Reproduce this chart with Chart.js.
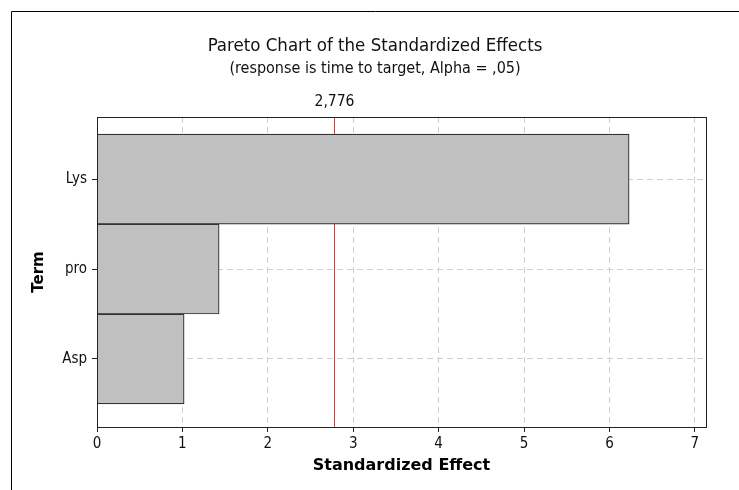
<!DOCTYPE html>
<html>
<head>
<meta charset="utf-8">
<script src="https://cdn.jsdelivr.net/npm/chart.js@4"></script>
<style>
  html, body { margin: 0; padding: 0; background: #fff; }
  #wrap { position: relative; width: 739px; height: 490px; }
</style>
</head>
<body>
<div id="wrap"><canvas id="chart" width="739" height="490"></canvas></div>
<script>
const terms = ['Lys', 'pro', 'Asp'];
const effects = [6.23, 1.43, 1.02];
const criticalValue = 2.776;
const criticalLabel = '2,776';
const xTicks = [0, 1, 2, 3, 4, 5, 6, 7];

const narrow = '"DejaVu Sans Condensed", "DejaVu Sans", sans-serif';

// outer frame, reference line (behind bars), plot box and label
const decorations = {
    id: 'decorations',
    beforeDraw(chart) {
        const ctx = chart.ctx;
        ctx.save();
        ctx.strokeStyle = '#000';
        ctx.lineWidth = 1;
        ctx.beginPath();
        ctx.moveTo(11.5, 490);
        ctx.lineTo(11.5, 11.5);
        ctx.lineTo(739, 11.5);
        ctx.stroke();
        ctx.restore();
    },
    beforeDatasetsDraw(chart) {
        const { ctx, chartArea: a, scales } = chart;
        const x = Math.round(scales.x.getPixelForValue(criticalValue)) + 0.5;
        ctx.save();
        ctx.strokeStyle = '#ee3333';
        ctx.lineWidth = 1;
        ctx.beginPath();
        ctx.moveTo(x, a.top);
        ctx.lineTo(x, a.bottom);
        ctx.stroke();
        ctx.restore();
    },
    afterDatasetsDraw(chart) {
        const { ctx, chartArea: a, scales } = chart;
        const x = Math.round(scales.x.getPixelForValue(criticalValue)) + 0.5;
        ctx.save();
        ctx.strokeStyle = '#222';
        ctx.lineWidth = 1;
        ctx.strokeRect(Math.round(a.left) + 0.5, Math.round(a.top) + 0.5,
            Math.round(a.right - a.left), Math.round(a.bottom - a.top));

        ctx.fillStyle = '#111';
        ctx.font = '15.5px ' + narrow;
        ctx.textAlign = 'center';
        ctx.textBaseline = 'middle';
        ctx.fillText(criticalLabel, x, a.top - 15);
        ctx.restore();
    }
};

new Chart(document.getElementById('chart'), {
    type: 'bar',
    data: {
        datasets: [{
            label: 'Standardized Effect',
            data: effects.map((v, i) => ({ x: v, y: i })),
            backgroundColor: '#c0c0c0',
            borderColor: '#333',
            borderWidth: 1.2,
            barPercentage: 1,
            categoryPercentage: 1
        }]
    },
    options: {
        indexAxis: 'y',
        responsive: false,
        animation: false,
        // left padding shifts the title centre to match the reference
        layout: { padding: { top: 0, right: 33, bottom: 0, left: 44 } },
        plugins: {
            legend: { display: false },
            tooltip: { enabled: false },
            title: {
                display: true,
                text: 'Pareto Chart of the Standardized Effects',
                color: '#111',
                font: { family: narrow, size: 18.5, weight: 'normal', lineHeight: 1.2 },
                padding: { top: 35, bottom: 2 }
            },
            subtitle: {
                display: true,
                text: '(response is time to target, Alpha = ,05)',
                color: '#111',
                font: { family: narrow, size: 16, weight: 'normal', lineHeight: 1.2 },
                padding: { top: 0, bottom: 38.6 }
            }
        },
        scales: {
            x: {
                type: 'linear',
                min: 0,
                max: 7.13,
                afterFit: s => { s.height = 63; },
                afterBuildTicks: s => { s.ticks = xTicks.map(v => ({ value: v })); },
                ticks: { color: '#111', font: { family: narrow, size: 15 }, padding: 3, maxRotation: 0 },
                grid: { color: '#cfcfcf', tickColor: '#222', tickLength: 5, tickBorderDash: [] },
                border: { display: false, dash: [6, 4] },
                title: {
                    display: true,
                    text: 'Standardized Effect',
                    color: '#000',
                    font: { family: '"DejaVu Sans", sans-serif', size: 16, weight: 'bold', lineHeight: 1.2 },
                    padding: { top: 0, bottom: 15 }
                }
            },
            y: {
                type: 'linear',
                reverse: true,
                offset: false,
                min: -0.69,
                max: 2.756,
                afterFit: s => { s.width = 53; },
                afterBuildTicks: s => { s.ticks = terms.map((t, i) => ({ value: i })); },
                ticks: {
                    color: '#111',
                    font: { family: narrow, size: 15 },
                    padding: 5,
                    callback: v => terms[v]
                },
                grid: { offset: false, color: '#cfcfcf', tickColor: '#222', tickLength: 5, tickBorderDash: [] },
                border: { display: false, dash: [6, 4] },
                title: {
                    display: true,
                    text: 'Term',
                    color: '#000',
                    font: { family: '"DejaVu Sans", sans-serif', size: 15, weight: 'bold', lineHeight: 1.2 },
                    padding: { top: -14, bottom: 0 }
                }
            }
        }
    },
    plugins: [decorations]
});
</script>
</body>
</html>
